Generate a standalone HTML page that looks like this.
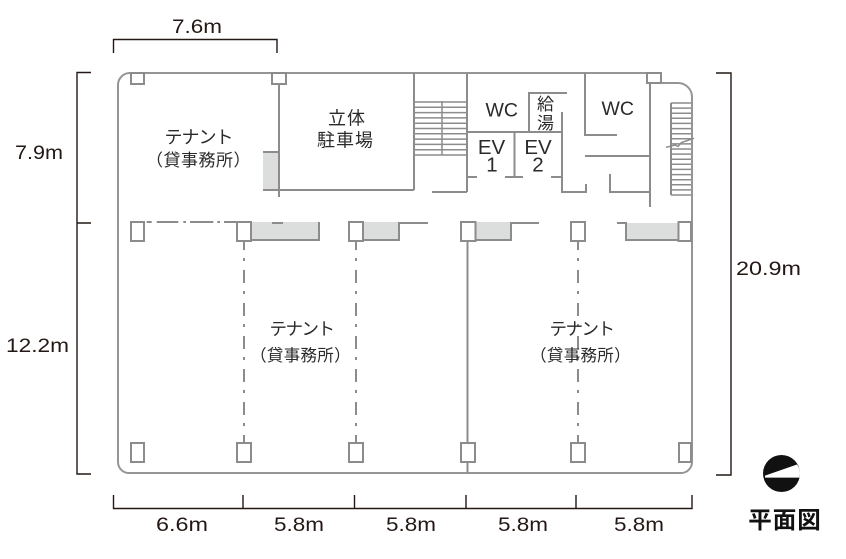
<!DOCTYPE html>
<html><head><meta charset="utf-8"><style>
html,body{margin:0;padding:0;background:#fff;width:846px;height:559px;overflow:hidden}
svg{display:block}
</style></head><body>
<svg width="846" height="559" viewBox="0 0 846 559" xmlns="http://www.w3.org/2000/svg">
<defs><clipPath id="cc"><circle cx="781.5" cy="473.5" r="18.5"/></clipPath></defs>

<!-- gray fills -->
<g fill="#dcdddd" stroke="none">
<rect x="263" y="152" width="16" height="38"/>
<rect x="251" y="222" width="68" height="18"/>
<rect x="363" y="222" width="36" height="18"/>
<rect x="476" y="222" width="35" height="18"/>
<rect x="626" y="223" width="52" height="17"/>
</g>

<!-- outline -->
<path d="M129,73 H648 M661,83 H678 A14,14 0 0 1 692,97 V462 A11,11 0 0 1 681,473 H129 A11,11 0 0 1 118,462 V85 A12,12 0 0 1 130,73" fill="none" stroke="#959595" stroke-width="2"/>

<!-- walls -->
<g stroke="#8c8c8c" stroke-width="2" fill="none">
<path d="M263,152 H279"/>
<path d="M279,84 V197"/>
<path d="M263,190 H414"/>
<path d="M414,73 V190"/>
<path d="M467,73 V192"/>
<path d="M432,192 H467"/>
<path d="M467,132 H562"/>
<path d="M529,132 V93 H567"/>
<path d="M562,112 V192 H586 V184"/>
<path d="M514.5,132 V177"/>
<path d="M467,177 H477 M505,177 H523 M551,177 H562"/>
<path d="M585,73 V135 H617"/>
<path d="M585,156 H650"/>
<path d="M650,83 V207"/>
<path d="M610,174 V192 H650"/>
<path d="M671,103 V195"/>
<!-- middle row -->
<path d="M251,240 H319 V222"/>
<path d="M272,223 H283"/>
<path d="M363,240 H399 V223 H428"/>
<path d="M476,240 H511 V223 H539"/>
<path d="M617,223 H626 V240 H678"/>
<path d="M146.7,222 H151.7 M156.7,222 H178.3 M183.3,222 H186 M190,222 H213.3 M217.3,222 H220 M224,222 H237"/>
<path d="M467.5,241 V473"/>
</g>
<g stroke="#8c8c8c" stroke-width="2" fill="none" stroke-dasharray="13 8 3 9" stroke-dashoffset="4">
<path d="M244,241 V443"/>
<path d="M356,241 V443"/>
<path d="M578,241 V443"/>
</g>

<!-- stairs -->
<g stroke="#8c8c8c" stroke-width="1.5" fill="none">
<path d="M414,102 H467 M414,107.3 H467 M414,112.6 H467 M414,117.9 H467 M414,123.2 H467 M414,128.5 H467 M414,133.8 H467 M414,139.1 H467 M414,144.4 H467 M414,149.7 H467 M414,155 H467"/>
<path d="M442,101 V155"/>
<path d="M671,103 H691 M671,108.1 H691 M671,113.2 H691 M671,118.3 H691 M671,123.4 H691 M671,128.6 H691 M671,133.7 H691 M671,138.8 H691 M671,143.9 H691 M671,149 H691 M671,154.1 H691 M671,159.2 H691 M671,164.3 H691 M671,169.4 H691 M671,174.6 H691 M671,179.7 H691 M671,184.8 H691 M671,189.9 H691 M671,195 H691"/>
<polyline points="666,147.3 675,145 678,146.5 681.5,142.5 694,138.3"/>
</g>

<!-- columns -->
<g stroke="#8c8c8c" stroke-width="2" fill="#fff">
<rect x="131" y="73" width="13" height="11"/>
<rect x="272" y="73" width="14" height="11"/>
<rect x="647" y="73" width="14" height="10"/>
<rect x="131" y="222" width="13" height="19"/>
<rect x="237" y="222" width="14" height="19"/>
<rect x="349" y="222" width="14" height="19"/>
<rect x="461" y="222" width="14.5" height="19"/>
<rect x="571" y="222" width="14" height="19"/>
<rect x="678.5" y="222" width="12.5" height="19"/>
<rect x="131" y="443" width="13" height="19"/>
<rect x="237" y="443" width="14" height="19"/>
<rect x="349" y="443" width="14" height="19"/>
<rect x="461" y="443" width="14" height="19"/>
<rect x="571" y="443" width="14" height="19"/>
<rect x="679" y="443" width="12" height="19"/>
</g>

<!-- dimension lines -->
<g stroke="#231815" stroke-width="1.4" fill="none">
<path d="M113.5,53 V39.5 H277 V53"/>
<path d="M91,72.5 H77 V474 H91 M77,223 H91"/>
<path d="M716,73 H731 V475 H716"/>
<path d="M113.5,495 V508.5 H692 V495 M243,495 V508.5 M354.5,495 V508.5 M466,495 V508.5 M576,495 V508.5"/>
</g>

<!-- dimension text -->
<g font-family="'Liberation Sans', sans-serif" font-size="19" fill="#231815">
<text x="172" y="33" textLength="50" lengthAdjust="spacingAndGlyphs">7.6m</text>
<text x="15" y="159" textLength="48" lengthAdjust="spacingAndGlyphs">7.9m</text>
<text x="6" y="352" textLength="63" lengthAdjust="spacingAndGlyphs">12.2m</text>
<text x="736" y="275" textLength="65" lengthAdjust="spacingAndGlyphs">20.9m</text>
<text x="156" y="531" textLength="52" lengthAdjust="spacingAndGlyphs">6.6m</text>
<text x="274" y="531" textLength="50" lengthAdjust="spacingAndGlyphs">5.8m</text>
<text x="386" y="531" textLength="50" lengthAdjust="spacingAndGlyphs">5.8m</text>
<text x="498" y="531" textLength="50" lengthAdjust="spacingAndGlyphs">5.8m</text>
<text x="614" y="531" textLength="50" lengthAdjust="spacingAndGlyphs">5.8m</text>
</g>

<!-- room labels -->
<g font-family="'Liberation Sans', 'Noto Sans CJK JP', sans-serif" fill="#2a2a2a" text-anchor="middle">
<text x="198.5" y="143.5" font-size="18" letter-spacing="-1">テナント</text>
<text x="198.5" y="166" font-size="17" letter-spacing="0.5">（貸事務所）</text>
<text x="301.5" y="335" font-size="17.5" letter-spacing="-1.5">テナント</text>
<text x="300.5" y="361" font-size="16.5" letter-spacing="0.3">（貸事務所）</text>
<text x="581.5" y="335" font-size="17.5" letter-spacing="-1.5">テナント</text>
<text x="580.5" y="361" font-size="16.5" letter-spacing="0.3">（貸事務所）</text>
<text x="347" y="124.5" font-size="18" letter-spacing="1">立体</text>
<text x="345.5" y="146.5" font-size="18" letter-spacing="1">駐車場</text>
<text x="545.5" y="110" font-size="17">給</text>
<text x="545.5" y="129" font-size="17">湯</text>
<text x="501.7" y="116.5" font-size="19.5">WC</text>
<text x="617.7" y="115" font-size="19.5">WC</text>
<text x="491.5" y="154" font-size="20.5">EV</text>
<text x="492" y="171.7" font-size="20.5">1</text>
<text x="538" y="154" font-size="20.5">EV</text>
<text x="538" y="171.7" font-size="20.5">2</text>
<text x="785" y="528" font-size="23.5" font-weight="700" letter-spacing="1" fill="#111">平面図</text>
</g>

<!-- compass -->
<circle cx="781.5" cy="473.5" r="18.5" fill="#111"/>
<polygon points="765,475.6 797,464.5 805,477.6 765,477.6" fill="#fff" clip-path="url(#cc)"/>
</svg>
</body></html>
